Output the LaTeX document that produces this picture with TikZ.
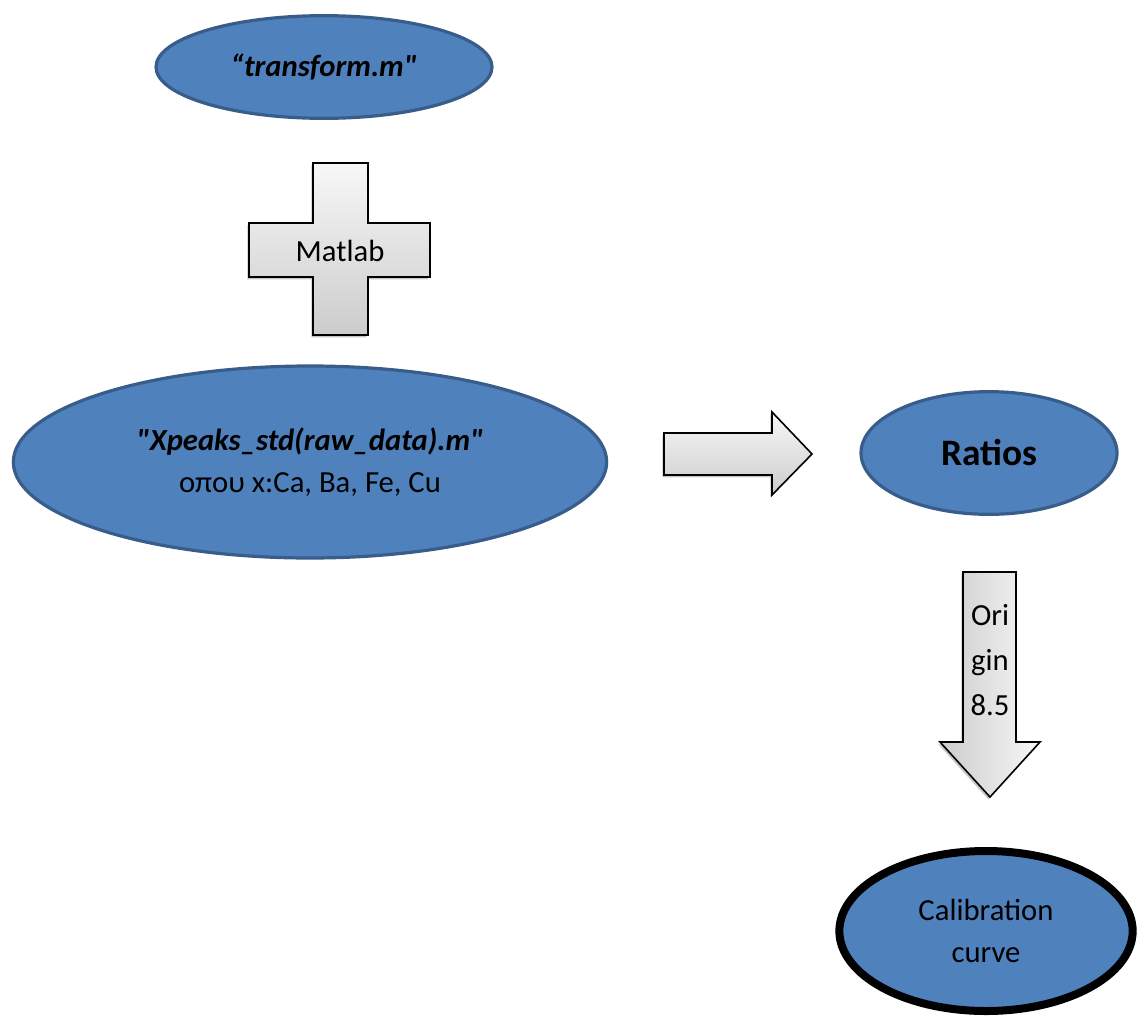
\documentclass[tikz,border=0pt]{standalone}
\usepackage{fontspec}
\setmainfont{Carlito}[Ligatures=TeXOff]
\usetikzlibrary{shapes.geometric,shadows}
\definecolor{ovalfill}{HTML}{4F81BD}
\definecolor{ovaldraw}{HTML}{385D8A}

\begin{document}
\begin{tikzpicture}[
    x=0.375pt, y=-0.375pt,                  % one unit = one pixel of the sketch
    every node/.style={font=\fontsize{11.5}{16}\selectfont, align=center},
    oval/.style={                           % blue ovals
        ellipse,
        fill=ovalfill,
        draw=ovaldraw,
        line width=1.2pt,
        inner sep=0pt
    },
    block/.style={                          % grey block shapes
        draw=black,
        line width=0.6pt,
        drop shadow={shadow xshift=-0.6pt, shadow yshift=-0.9pt, opacity=0.45}
    },
    shade down/.style={top color=gray!6, bottom color=gray!40},
    shade side/.style={left color=gray!40, right color=gray!6}
]

% Page size of the sketch
\useasboundingbox (0,0) rectangle (1137,1017);

% Ovals
\node[oval, minimum width=126pt, minimum height=38.5pt] (transform) at (324,67)
    {\bfseries\itshape “transform.m"};
\node[oval, minimum width=222.5pt, minimum height=72pt] (xpeaks) at (310,462)
    {\bfseries\itshape "Xpeaks\_std(raw\_data).m"\\ οπου x:Ca, Ba, Fe, Cu};
\node[oval, minimum width=96pt, minimum height=46pt] (ratios) at (989,453)
    {\fontsize{14}{17}\selectfont\bfseries Ratios};
\node[oval, draw=black, line width=3pt, minimum width=110pt, minimum height=60pt] (calib) at (986,931)
    {Calibration\\ curve};

% Plus sign between the two top ovals
\draw[block, shade down] (313,163) -- (368,163) -- (368,223) -- (430,223) -- (430,277)
    -- (368,277) -- (368,335) -- (313,335) -- (313,277) -- (249,277)
    -- (249,223) -- (313,223) -- cycle;
\node (matlab) at (340,251) {Matlab};

% Arrow to the right
\draw[block, shade down] (664,433) -- (772,433) -- (772,412) -- (812,454) -- (772,495)
    -- (772,475) -- (664,475) -- cycle;

% Arrow down
\draw[block, shade side] (963,572) -- (1016,572) -- (1016,742) -- (1040,742) -- (990,797)
    -- (940,742) -- (963,742) -- cycle;
\node (origin) at (990,660) {Ori\\[1pt] gin\\[1pt] 8.5};

\end{tikzpicture}
\end{document}
